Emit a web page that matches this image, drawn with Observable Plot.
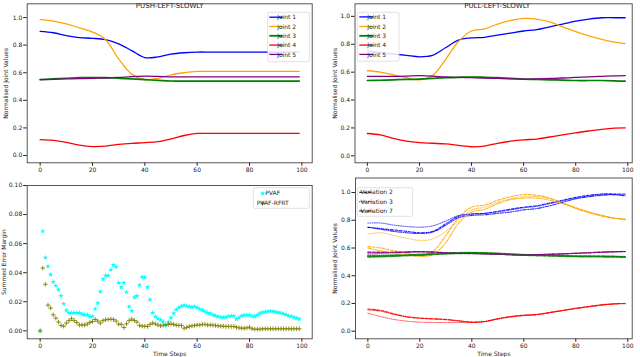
<!DOCTYPE html>
<html><head><meta charset="utf-8">
<script src="https://cdn.jsdelivr.net/npm/d3@7"></script>
<script src="https://cdn.jsdelivr.net/npm/@observablehq/plot@0.6"></script>
<style>
body{margin:0;background:#fff;}
#wrap{position:relative;width:640px;height:357px;overflow:hidden;background:#fff;}
#wrap svg{position:absolute;left:0;top:0;}
</style></head><body><div id="wrap"></div>
<script>
// ---------- DATA ----------
const steps = [0,5,10,15,20,25,30,35,40,45,50,55,60,65,70,75,80,85,90,95,99];
const jointNames = ["Joint 1","Joint 2","Joint 3","Joint 4","Joint 5"];
const jointColors = ["#0000ff","#ffa500","#008000","#ff0000","#800080"];

// PUSH-LEFT-SLOWLY
const push1 = [0.90,0.89,0.87,0.855,0.85,0.84,0.81,0.76,0.71,0.715,0.735,0.745,0.75,0.75,0.75,0.75,0.75,0.75,0.75,0.75,0.75];
const push2 = [0.985,0.975,0.955,0.925,0.895,0.84,0.70,0.59,0.55,0.56,0.585,0.60,0.61,0.61,0.61,0.61,0.61,0.61,0.61,0.61,0.61];
const push3 = [0.55,0.555,0.56,0.565,0.565,0.565,0.56,0.555,0.55,0.545,0.54,0.54,0.54,0.54,0.54,0.54,0.54,0.54,0.54,0.54,0.54];
const push4 = [0.115,0.11,0.095,0.075,0.065,0.068,0.08,0.088,0.093,0.10,0.12,0.145,0.16,0.16,0.16,0.16,0.16,0.16,0.16,0.16,0.16];
const push5 = [0.55,0.552,0.555,0.558,0.56,0.562,0.566,0.572,0.575,0.573,0.57,0.57,0.57,0.57,0.57,0.57,0.57,0.57,0.57,0.57,0.57];

// PULL-LEFT-SLOWLY (also Variation 2)
const pull1 = [0.75,0.74,0.73,0.72,0.71,0.72,0.775,0.83,0.845,0.85,0.865,0.88,0.895,0.905,0.925,0.945,0.965,0.98,0.99,0.99,0.99];
const pull2 = [0.61,0.60,0.58,0.56,0.545,0.575,0.69,0.82,0.895,0.91,0.945,0.97,0.985,0.98,0.96,0.925,0.89,0.86,0.835,0.815,0.805];
const pull3 = [0.54,0.542,0.545,0.548,0.55,0.555,0.56,0.563,0.565,0.563,0.56,0.555,0.55,0.548,0.545,0.543,0.54,0.54,0.54,0.538,0.535];
const pull4 = [0.16,0.15,0.125,0.105,0.095,0.09,0.085,0.075,0.065,0.07,0.09,0.105,0.115,0.12,0.135,0.15,0.165,0.178,0.19,0.198,0.20];
const pull5 = [0.57,0.57,0.57,0.572,0.575,0.572,0.565,0.562,0.56,0.558,0.555,0.552,0.55,0.552,0.555,0.558,0.562,0.566,0.57,0.573,0.575];

// Variation 3 (dotted)
const var3_1 = [0.78,0.78,0.765,0.755,0.75,0.76,0.795,0.835,0.845,0.85,0.86,0.875,0.89,0.90,0.92,0.94,0.96,0.975,0.985,0.985,0.98];
const var3_2 = [0.70,0.71,0.69,0.67,0.655,0.665,0.72,0.80,0.875,0.895,0.93,0.955,0.97,0.97,0.955,0.925,0.89,0.86,0.835,0.815,0.805];
const var3_3 = [0.545,0.547,0.55,0.553,0.555,0.56,0.565,0.567,0.568,0.566,0.563,0.558,0.553,0.551,0.548,0.546,0.543,0.542,0.541,0.54,0.538];
const var3_4 = [0.13,0.105,0.085,0.072,0.065,0.063,0.062,0.062,0.063,0.07,0.09,0.105,0.115,0.12,0.135,0.15,0.165,0.178,0.19,0.198,0.20];
const var3_5 = [0.555,0.56,0.565,0.57,0.572,0.57,0.566,0.563,0.561,0.559,0.556,0.553,0.551,0.553,0.556,0.559,0.563,0.567,0.571,0.574,0.576];

// Variation 7 (dash-dot)
const var7_1 = [0.75,0.735,0.72,0.71,0.705,0.715,0.765,0.82,0.835,0.84,0.85,0.86,0.875,0.885,0.905,0.93,0.955,0.97,0.98,0.985,0.975];
const var7_2 = [0.60,0.58,0.565,0.55,0.54,0.55,0.64,0.78,0.86,0.88,0.92,0.95,0.96,0.96,0.945,0.92,0.885,0.855,0.83,0.815,0.81];
const var7_3 = [0.535,0.537,0.54,0.545,0.548,0.553,0.558,0.56,0.562,0.56,0.557,0.552,0.548,0.545,0.543,0.54,0.538,0.537,0.536,0.535,0.533];
const var7_4 = [0.155,0.145,0.122,0.103,0.093,0.088,0.083,0.073,0.065,0.07,0.088,0.103,0.113,0.12,0.133,0.148,0.163,0.176,0.188,0.196,0.198];
const var7_5 = [0.565,0.567,0.568,0.57,0.572,0.57,0.565,0.561,0.559,0.557,0.554,0.551,0.549,0.551,0.554,0.557,0.561,0.565,0.569,0.572,0.574];

// Summed error margin, time steps 0..99
const pvaf = [0.0,0.0685,0.0503,0.0444,0.0386,0.0336,0.031,0.0283,0.0241,0.0186,
0.014,0.0124,0.0124,0.0124,0.0124,0.0124,0.0115,0.011,0.011,0.0097,
0.010,0.015,0.019,0.027,0.0355,0.038,0.038,0.042,0.0453,0.044,
0.033,0.030,0.033,0.0267,0.0166,0.0138,0.023,0.024,0.0315,0.037,
0.0368,0.030,0.0214,0.0124,0.0097,0.0083,0.0074,0.0064,0.004,0.006,
0.009,0.012,0.0145,0.016,0.017,0.0175,0.017,0.0166,0.0163,0.0166,
0.016,0.015,0.014,0.0133,0.0124,0.012,0.011,0.0103,0.0097,0.0094,
0.0092,0.0094,0.010,0.0103,0.0103,0.008,0.009,0.0103,0.0108,0.0108,
0.0108,0.010,0.0099,0.011,0.012,0.0126,0.013,0.0133,0.0135,0.0133,
0.013,0.0126,0.0122,0.0117,0.011,0.0103,0.0099,0.0092,0.0087,0.008];
const pvafRfrt = [0.0,0.0432,0.032,0.0177,0.0156,0.011,0.0087,0.006,0.0037,0.0032,
0.0053,0.007,0.0083,0.007,0.0057,0.004,0.004,0.004,0.0046,0.0057,
0.0064,0.0078,0.0067,0.0053,0.007,0.0076,0.0078,0.008,0.0078,0.0067,
0.0046,0.0044,0.0023,0.0048,0.007,0.008,0.0071,0.006,0.0037,0.0032,
0.0032,0.003,0.0044,0.0053,0.0048,0.004,0.0034,0.0039,0.004,0.0044,
0.0048,0.0044,0.0039,0.0037,0.0037,0.0018,0.0023,0.003,0.0034,0.0037,
0.004,0.004,0.0044,0.0044,0.004,0.004,0.0039,0.0037,0.0034,0.0032,
0.0032,0.003,0.003,0.003,0.003,0.0025,0.002,0.0018,0.0018,0.002,
0.0025,0.0014,0.0011,0.0011,0.0011,0.0014,0.0014,0.0014,0.0014,0.0014,
0.0014,0.0014,0.0014,0.0014,0.0014,0.0014,0.0014,0.0014,0.0014,0.0014];

const xTicks = [0,20,40,60,80,100];
const jointTicks = [0,0.2,0.4,0.6,0.8,1.0];
const errTicks = [0,0.02,0.04,0.06,0.08,0.10];
const variationNames = ["Variation 2","Variation 3","Variation 7"];
const variationDash = ["3,1.5","1,1.2","4,1.3,1,1.3"];

// ---------- RENDER ----------
const FONT = "'DejaVu Sans', sans-serif";
const wrap = document.getElementById("wrap");

function rows(vals){ return steps.map((s,i)=>({step:s, value:vals[i]})); }

function jointLines(series, extra={}, w=1.3) {
  return series.map((vals,i)=>Plot.line(rows(vals), {x:"step", y:"value", stroke: jointColors[i],
    strokeWidth: i===2 ? w+0.4 : w, curve:"catmull-rom", ...extra}));
}

function makePanel({L,R,T,B,xDomain,yDomain,yTicks,yFmt,yLabel,yOff,xLabel,xOff,marks}) {
  const svg = Plot.plot({
    width:640, height:357,
    marginLeft:L, marginRight:640-R, marginTop:T, marginBottom:357-B,
    style:{background:"transparent", fontFamily:FONT, fontSize:"6px", color:"#222", overflow:"visible"},
    x:{domain:xDomain, ticks:xTicks, tickFormat:d3.format("d"), tickSize:3.5, tickPadding:1.5,
       label: xLabel || null, labelAnchor:"center", labelOffset:xOff, labelArrow:"none"},
    y:{domain:yDomain, ticks:yTicks, tickFormat:yFmt, tickSize:3.5, tickPadding:1.5,
       label: yLabel, labelAnchor:"center", labelOffset:yOff, labelArrow:"none"},
    marks:[...marks, Plot.frame({stroke:"#444", strokeWidth:0.9})]
  });
  wrap.appendChild(svg);
  return svg;
}

function legendFrame(svg,x0,y0,x1,y1){
  const g = d3.select(svg).append("g");
  g.append("rect").attr("x",x0).attr("y",y0).attr("width",x1-x0).attr("height",y1-y0)
   .attr("rx",1.5).attr("fill","white").attr("fill-opacity",0.85).attr("stroke","#cccccc").attr("stroke-width",0.6);
  return g;
}
function legendText(g,x,y,t){
  g.append("text").attr("x",x).attr("y",y).attr("dy","0.35em").attr("fill","#222")
   .attr("font-size","6px").attr("font-family",FONT).text(t);
}
function jointLegend(svg,x0,y0,x1,y1,lx0,lx1,tx,ys){
  const g = legendFrame(svg,x0,y0,x1,y1);
  jointNames.forEach((n,i)=>{
    g.append("line").attr("x1",lx0).attr("x2",lx1).attr("y1",ys[i]).attr("y2",ys[i])
     .attr("stroke",jointColors[i]).attr("stroke-width", i===2?1.8:1.3);
    legendText(g,tx,ys[i],n);
  });
}

// Top-left
const tl = makePanel({L:26.7,R:311.7,T:3.3,B:162.3,xDomain:[-4.95,103.95],yDomain:[-0.053,1.10],
  yTicks:jointTicks,yFmt:d3.format(".1f"),yLabel:"Normalised Joint Values",yOff:23.5,
  marks:[...jointLines([push1,push2,push3,push4,push5]),
    Plot.text(["PUSH-LEFT-SLOWLY"],{frameAnchor:"top",dy:-0.8,fontSize:7,fill:"#222"})]});
jointLegend(tl,267.7,12.3,309.3,61.7,269.3,282.7,286.7,[17.2,26.5,35.8,45.1,54.4]);

// Top-right
const tr = makePanel({L:354.5,R:631.7,T:3.3,B:162.3,xDomain:[-4.75,101.7],yDomain:[-0.05,1.09],
  yTicks:jointTicks,yFmt:d3.format(".1f"),yLabel:"Normalised Joint Values",yOff:22,
  marks:[...jointLines([pull1,pull2,pull3,pull4,pull5]),
    Plot.text(["PULL-LEFT-SLOWLY"],{frameAnchor:"top",dy:-0.8,dx:3.5,fontSize:7,fill:"#222"})]});
jointLegend(tr,357.3,12.3,399,61.2,359.3,373.3,376.7,[16.9,26.5,35.8,45.1,54.4]);

// Bottom-left
const bl = makePanel({L:26.7,R:311.7,T:185,B:338.3,xDomain:[-4.95,103.95],yDomain:[-0.0055,0.10],
  yTicks:errTicks,yFmt:d3.format(".2f"),yLabel:"Summed Error Margin",yOff:25.5,xLabel:"Time Steps",xOff:17.5,
  marks:[
    Plot.dot(pvaf.map((v,i)=>({step:i,value:v})),{x:"step",y:"value",symbol:"star",r:1.7,fill:"#00ffff",stroke:"none"}),
    Plot.dot(pvafRfrt.map((v,i)=>({step:i,value:v})),{x:"step",y:"value",symbol:"plus",r:1.6,stroke:"#808000",strokeWidth:0.9})
  ]});
{
  const g = legendFrame(bl,253.3,187.7,309.3,208.3);
  g.append("path").attr("d",d3.symbol(d3.symbolStar, Math.PI*1.7*1.7)()).attr("transform","translate(262.7,193.3)").attr("fill","#00ffff");
  g.append("path").attr("d",d3.symbol(d3.symbolPlus, Math.PI*1.6*1.6)()).attr("transform","translate(262.7,203.3)").attr("fill","none").attr("stroke","#808000").attr("stroke-width",0.9);
  legendText(g,272.7,193.3,"PVAF");
  legendText(g,272.7,203.3,"PVAF-RFRT");
}

// Bottom-right
const br = makePanel({L:355,R:631.7,T:177.5,B:338.3,xDomain:[-4.75,101.7],yDomain:[-0.055,1.105],
  yTicks:jointTicks,yFmt:d3.format(".1f"),yLabel:"Normalised Joint Values",yOff:22.5,xLabel:"Time Steps",xOff:17.5,
  marks:[
    ...jointLines([pull1,pull2,pull3,pull4,pull5],{strokeDasharray:variationDash[0],strokeOpacity:0.85},1.1),
    ...jointLines([var3_1,var3_2,var3_3,var3_4,var3_5],{strokeDasharray:variationDash[1],strokeOpacity:0.7},1.0),
    ...jointLines([var7_1,var7_2,var7_3,var7_4,var7_5],{strokeDasharray:variationDash[2],strokeOpacity:0.8},1.1)
  ]});
{
  const g = legendFrame(br,357.3,187.7,412.7,216.3);
  const ys=[192.3,201.7,211];
  variationNames.forEach((n,i)=>{
    g.append("line").attr("x1",359.3).attr("x2",373.3).attr("y1",ys[i]).attr("y2",ys[i])
     .attr("stroke","#000").attr("stroke-width",1).attr("stroke-dasharray",variationDash[i]);
    legendText(g,376.7,ys[i],n);
  });
}
</script></body></html>
